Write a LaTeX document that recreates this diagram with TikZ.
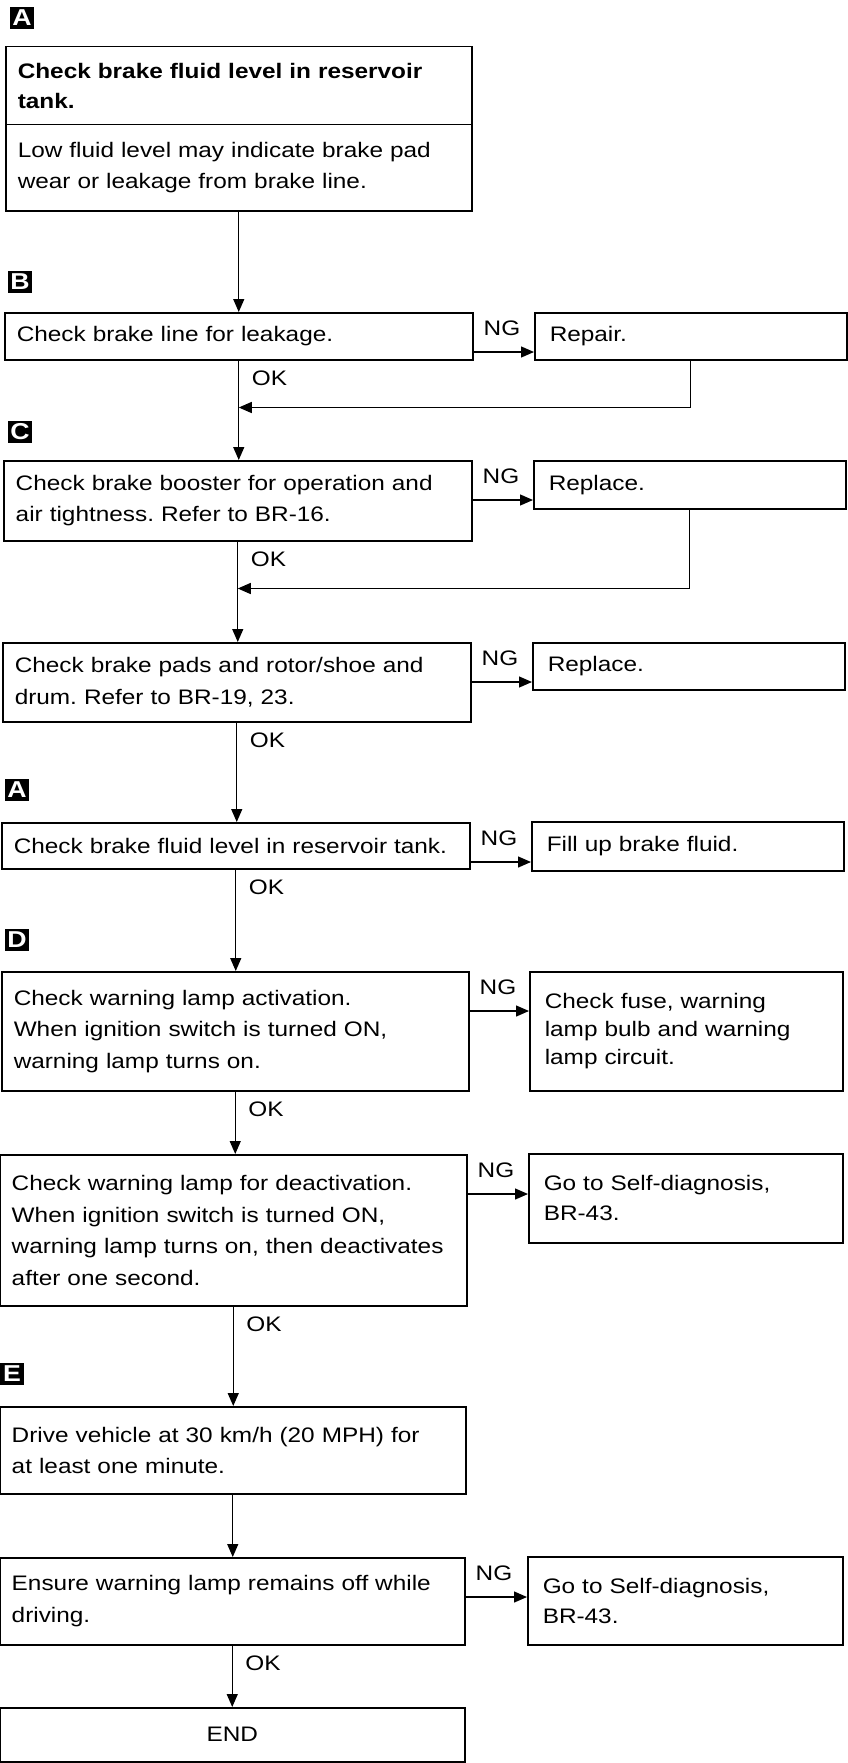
\documentclass[tikz,border=0pt]{standalone}
\usepackage{fontspec}
\setmainfont{Liberation Sans}[FakeStretch=1.16]
\usetikzlibrary{arrows.meta,calc}
\frenchspacing
\begin{document}
\frenchspacing
\begin{tikzpicture}[x=1pt,y=-1pt,
  every node/.style={font=\fontsize{21}{31.5}\selectfont},
  lbox/.style={draw, line width=1.5pt, inner xsep=12pt, inner ysep=0pt, align=left, anchor=north west},
  rbox/.style={draw, line width=1.5pt, inner xsep=15pt, inner ysep=0pt, align=left, anchor=north west},
  lbl/.style={fill=black, text=white, inner sep=0pt, minimum width=24pt, minimum height=22pt,
    font=\fontsize{23}{23}\selectfont\bfseries},
  tag/.style={anchor=base west, inner sep=0pt},
  arr/.style={-{Triangle[length=13pt,width=11pt]}, line width=1.3pt}]
\useasboundingbox (0,0) rectangle (847,1763);

% letter labels
\node[lbl] (lA) at (22,18) {A};
\node[lbl] (lB) at (20,282) {B};
\node[lbl] (lC) at (20,432) {C};
\node[lbl] (lA2) at (17,790) {A};
\node[lbl] (lD) at (17,940) {D};
\node[lbl] (lE) at (12,1374) {E};

% left column
\node[lbox, text width=442pt, minimum height=78pt, font=\fontsize{21}{30}\selectfont\bfseries] (b1t) at (5,46)
  {Check brake fluid level in reservoir\\tank.};
\node[lbox, text width=442pt, minimum height=86pt] (b1b) at (5,124)
  {Low fluid level may indicate brake pad\\wear or leakage from brake line.};
\node[lbox, text width=444pt, minimum height=47pt] (bB) at (4,312)
  {Check brake line for leakage.};
\node[lbox, text width=444pt, minimum height=80pt] (bC) at (3,460)
  {Check brake booster for operation and\\air tightness. Refer to BR-16.};
\node[lbox, text width=444pt, minimum height=79pt] (bP) at (2,642)
  {Check brake pads and rotor/shoe and\\drum. Refer to BR-19, 23.};
\node[lbox, text width=444pt, minimum height=46pt] (bF) at (1,822)
  {Check brake fluid level in reservoir tank.};
\node[lbox, text width=443pt, minimum height=119pt] (bW) at (1,971)
  {Check warning lamp activation.\\When ignition switch is turned ON,\\warning lamp turns on.};
\node[lbox, text width=443pt, minimum height=151pt] (bD) at (-1,1154)
  {Check warning lamp for deactivation.\\When ignition switch is turned ON,\\warning lamp turns on, then deactivates\\after one second.};
\node[lbox, text width=442pt, minimum height=87pt] (bV) at (-1,1406)
  {Drive vehicle at 30 km/h (20 MPH) for\\at least one minute.};
\node[lbox, text width=441pt, minimum height=87pt] (bE) at (-1,1557)
  {Ensure warning lamp remains off while\\driving.};
\node[lbox, text width=441pt, minimum height=54pt, align=center] (bEnd) at (-1,1707) {END};

% right column
\node[rbox, text width=282pt, minimum height=47pt] (rB) at (534,312) {Repair.};
\node[rbox, text width=282pt, minimum height=48pt] (rC) at (533,460) {Replace.};
\node[rbox, text width=282pt, minimum height=47pt] (rP) at (532,642) {Replace.};
\node[rbox, text width=282pt, minimum height=49pt] (rF) at (531,821) {Fill up brake fluid.};
\node[rbox, text width=283pt, minimum height=119pt, font=\fontsize{21}{28}\selectfont] (rW) at (529,971)
  {Check fuse, warning\\lamp bulb and warning\\lamp circuit.};
\node[rbox, text width=284pt, minimum height=89pt, font=\fontsize{21}{30}\selectfont] (rD) at (528,1153)
  {Go to Self-diagnosis,\\BR-43.};
\node[rbox, text width=285pt, minimum height=88pt, font=\fontsize{21}{30}\selectfont] (rE) at (527,1556)
  {Go to Self-diagnosis,\\BR-43.};

% junction coordinates for return lines
\path (bB.south) ++(0,47) coordinate (jB);
\path (bC.south) ++(0,47) coordinate (jC);

% vertical flow
\draw[arr] (b1b.south) -- (b1b.south |- bB.north);
\draw[arr] (bB.south) -- (bB.south |- bC.north);
\draw[arr] (bC.south) -- (bC.south |- bP.north);
\draw[arr] (bP.south) -- (bP.south |- bF.north);
\draw[arr] (bF.south) -- (bF.south |- bW.north);
\draw[arr] (bW.south) -- (bW.south |- bD.north);
\draw[arr] (bD.south) -- (bD.south |- bV.north);
\draw[arr] (bV.south) -- (bV.south |- bE.north);
\draw[arr] (bE.south) -- (bE.south |- bEnd.north);

% return lines
\draw[arr] (rB.south) |- (jB);
\draw[arr] (rC.south) |- (jC);

% NG branches
\foreach \l/\r in {bB/rB, bC/rC, bP/rP, bF/rF, bW/rW, bD/rD, bE/rE}{
  \draw[arr] ([yshift=-40pt]\l.north east) -- ([yshift=-40pt]\l.north east -| \r.west);
  \node[tag] (ng\l) at ([xshift=10pt,yshift=-23pt]\l.north east) {NG};
}

% OK labels
\foreach \l in {bB, bC, bP, bF, bW, bD, bE}{
  \node[tag] (ok\l) at ([xshift=13pt,yshift=-25pt]\l.south) {OK};
}
\end{tikzpicture}
\end{document}
